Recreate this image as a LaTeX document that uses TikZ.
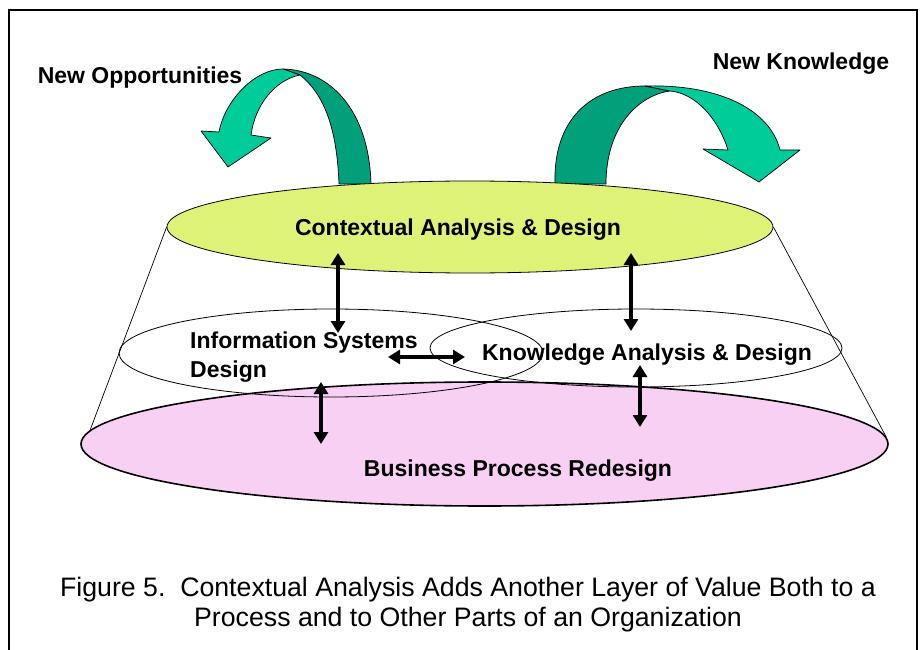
\documentclass[tikz,border=0pt]{standalone}
\usepackage{fontspec}
\setmainfont{Liberation Sans}
\usetikzlibrary{shapes.geometric,arrows.meta}
\definecolor{arrowlight}{RGB}{0,204,153}
\definecolor{arrowdark}{RGB}{0,160,122}
\definecolor{ctxfill}{RGB}{222,242,120}
\definecolor{bprfill}{RGB}{248,208,244}
\begin{document}
\begin{tikzpicture}[x=1pt,y=-1pt,
  lbl/.style={font=\fontsize{23}{29}\selectfont\bfseries, inner sep=0pt, anchor=base},
  ring/.style={ellipse, draw, inner sep=0pt, line width=0.8pt},
  dbl/.style={{Triangle[length=12pt,width=14pt]}-{Triangle[length=12pt,width=14pt]}, line width=3.2pt},
  ribbon/.style={draw=black, line width=0.7pt, line join=round},
  cone/.style={line width=0.7pt},
]
\useasboundingbox (0,0) rectangle (922,650);
\draw[line width=1.5pt] (9,650) -- (9,10) -- (917,10) -- (917,650);

% ribbon arrows
\path[ribbon, fill=arrowdark] (339,184) .. controls (337,130) and (325,95) .. (300,75)
  -- (283,69) .. controls (330,70) and (369,110) .. (371,184) -- cycle;
\path[ribbon, fill=arrowlight] (283,69) .. controls (255,69) and (225,100) .. (219,132)
  -- (201,131) -- (228,167) -- (271,138) -- (251,135)
  .. controls (255,105) and (275,80) .. (300,75) -- cycle;
\path[ribbon, fill=arrowdark] (555,184) .. controls (553,120) and (590,86) .. (645,86)
  -- (670,91) .. controls (640,95) and (606,125) .. (606,184) -- cycle;
\path[ribbon, fill=arrowlight] (645,86) .. controls (720,84) and (770,110) .. (780,150)
  -- (800,150) -- (759,182) -- (703,149) -- (728,150)
  .. controls (718,118) and (695,93) .. (670,91) -- cycle;

% layers
\node[ring, fill=bprfill, line width=1.6pt, minimum width=807pt, minimum height=124pt] (bpr) at (484.5,444) {};
\node[ring, minimum width=424pt, minimum height=88pt] (isd) at (331,353) {};
\node[ring, minimum width=412pt, minimum height=78pt] (kad) at (636,348) {};
\node[ring, fill=ctxfill, minimum width=606pt, minimum height=92pt] (ctx) at (470,227) {};

\draw[cone] (ctx.west) -- (bpr.178);
\draw[cone] (ctx.east) -- (bpr.1);

% labels
\node[lbl] (nop) at (140,84) {New Opportunities};
\node[lbl] (nkn) at (801,70) {New Knowledge};
\node[lbl] (ctxt) at (458,236) {Contextual Analysis \& Design};
\node[lbl, anchor=base west, align=left] (isdt) at (190,377) {Information Systems\\Design};
\node[lbl] (kadt) at (647,360) {Knowledge Analysis \& Design};
\node[lbl] (bprt) at (518,476) {Business Process Redesign};

% connectors
\coordinate (a1s) at (338,253); \coordinate (a1e) at (338,333);
\coordinate (a2s) at (631,253); \coordinate (a2e) at (631,331);
\coordinate (a3s) at (321,382); \coordinate (a3e) at (321,444);
\coordinate (a4s) at (640,365); \coordinate (a4e) at (640,427);
\coordinate (a5s) at (388,357); \coordinate (a5e) at (465,357);
\draw[dbl] (a1s) -- (a1e);
\draw[dbl] (a2s) -- (a2e);
\draw[dbl] (a3s) -- (a3e);
\draw[dbl] (a4s) -- (a4e);
\draw[dbl] (a5s) -- (a5e);

% caption
\node[font=\fontsize{26.7}{30}\selectfont, align=center, anchor=base, inner sep=0pt] (cap) at (468,626)
  {Figure 5.\ \ Contextual Analysis Adds Another Layer of Value Both to a\\Process and to Other Parts of an Organization};
\end{tikzpicture}
\end{document}
